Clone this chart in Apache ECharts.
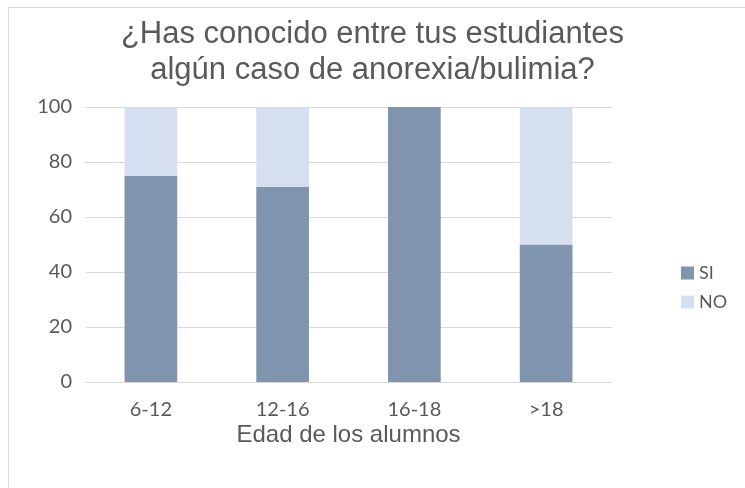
<!DOCTYPE html>
<html>
<head>
<meta charset="utf-8">
<script src="https://cdn.jsdelivr.net/npm/echarts@6/dist/echarts.min.js"></script>
<style>
  html, body { margin: 0; padding: 0; background: #ffffff; }
  #chart { width: 745px; height: 488px; }
</style>
</head>
<body>
<div id="chart"></div>
<script>
var categories = ['6-12', '12-16', '16-18', '>18']
var siValues = [75, 71, 100, 50]
var noValues = [25, 29, 0, 50]
var yTicks = { min: 0, max: 100, interval: 20 }

var myChart = echarts.init(document.getElementById('chart'))
var option = {
  backgroundColor: '#ffffff',
  animation: false,
  title: {
    text: '¿Has conocido entre tus estudiantes\nalgún caso de anorexia/bulimia?',
    left: 'center',
    top: 11,
    textStyle: {
      fontFamily: 'Liberation Sans',
      fontSize: 31,
      fontWeight: 'normal',
      color: '#595959',
      lineHeight: 36
    }
  },
  legend: {
    orient: 'vertical',
    left: 676,
    top: 259,
    itemWidth: 13,
    itemHeight: 13,
    itemGap: 11,
    icon: 'rect',
    textStyle: { fontFamily: 'Lato', fontSize: 18, color: '#595959' },
    data: ['SI', 'NO']
  },
  grid: {
    left: 85,
    right: 133,
    top: 107,
    bottom: 106,
    containLabel: false
  },
  xAxis: {
    type: 'category',
    data: categories,
    name: 'Edad de los alumnos',
    nameLocation: 'middle',
    nameGap: 41,
    nameMoveOverlap: false,
    nameTextStyle: { fontFamily: 'Liberation Sans', fontSize: 24, color: '#595959' },
    axisLine: { lineStyle: { color: '#d9d9d9' } },
    axisTick: { show: false },
    axisLabel: { fontFamily: 'Lato', fontSize: 20, color: '#595959', margin: 18 }
  },
  yAxis: {
    type: 'value',
    min: yTicks.min,
    max: yTicks.max,
    interval: yTicks.interval,
    axisLine: { show: false },
    axisTick: { show: false },
    axisLabel: { fontFamily: 'Lato', fontSize: 20, color: '#595959', margin: 13 },
    splitLine: { lineStyle: { color: '#d9d9d9' } }
  },
  series: [
    {
      name: 'SI',
      type: 'bar',
      stack: 'total',
      barWidth: '40%',
      itemStyle: { color: '#8094ad' },
      data: siValues
    },
    {
      name: 'NO',
      type: 'bar',
      stack: 'total',
      barWidth: '40%',
      itemStyle: { color: '#d6dff0' },
      data: noValues
    }
  ],
  graphic: [
    {
      type: 'rect',
      shape: { x: 8.5, y: 7.5, width: 760, height: 500 },
      style: { fill: 'none', stroke: '#d9d9d9', lineWidth: 1 },
      silent: true
    }
  ]
}

myChart.setOption(option, true)
window.addEventListener('resize', () => {
  myChart.resize()
})
</script>
</body>
</html>
